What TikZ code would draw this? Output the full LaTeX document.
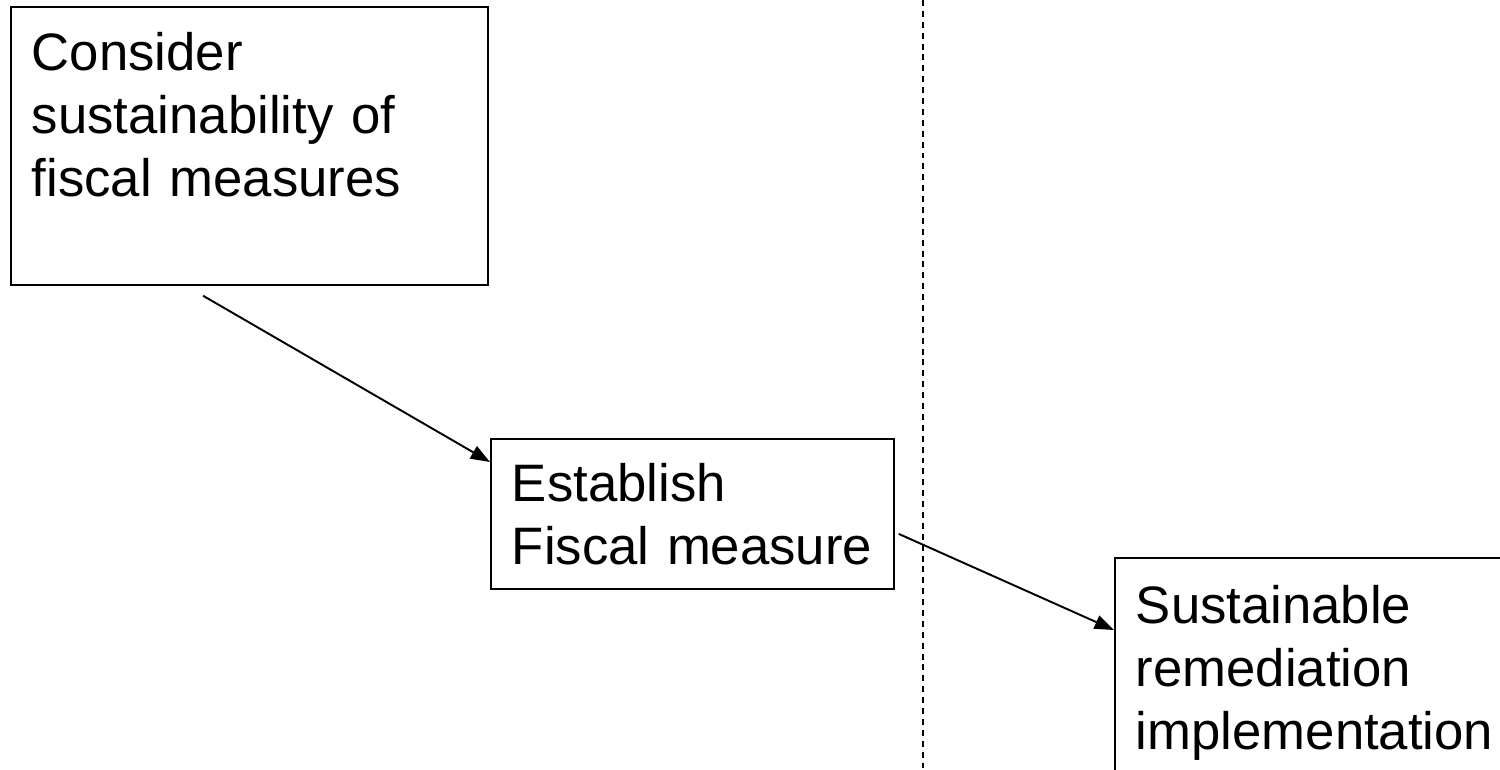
\documentclass[tikz,border=0pt]{standalone}
\usepackage{fontspec}
\setmainfont{Liberation Sans}
\usetikzlibrary{arrows.meta,calc}
\hyphenpenalty=10000
\tikzset{
  stepbox/.style={draw, line width=1pt, anchor=north west, align=left,
    inner xsep=0.42cm, inner ysep=0pt, font=\fontsize{30}{36}\selectfont},
  arr/.style={-{Triangle[length=11pt,width=8pt]}, line width=1.1pt}
}
\begin{document}
\begin{tikzpicture}[x=0.02cm,y=-0.02cm]
\useasboundingbox (0,0) rectangle (1500,770);
\clip (0,0) rectangle (1500,770);
% dividing line
\draw[line width=1.1pt, dash pattern=on 3.4pt off 2.8pt] (923,0) -- (923,770);
% boxes
\node[stepbox, text width=8.7cm, minimum height=5.56cm] (consider) at (10,6)
  {Consider\\sustainability of\\fiscal measures\\\mbox{}};
\node[stepbox, text width=7.22cm, minimum height=3cm] (establish) at (490,438)
  {Establish\\Fiscal measure};
\node[stepbox, text width=7.4cm, minimum height=4.6cm] (sustain) at (1114,557)
  {Sustainable\\remediation\\implementation};
% arrows
\draw[arr] ($(consider.south west)+(193,10)$) -- ($(establish.north west)+(0,24)$);
\draw[arr] ($(establish.east)+(4,20)$) -- ($(sustain.north west)+(0,73)$);
\end{tikzpicture}
\end{document}
